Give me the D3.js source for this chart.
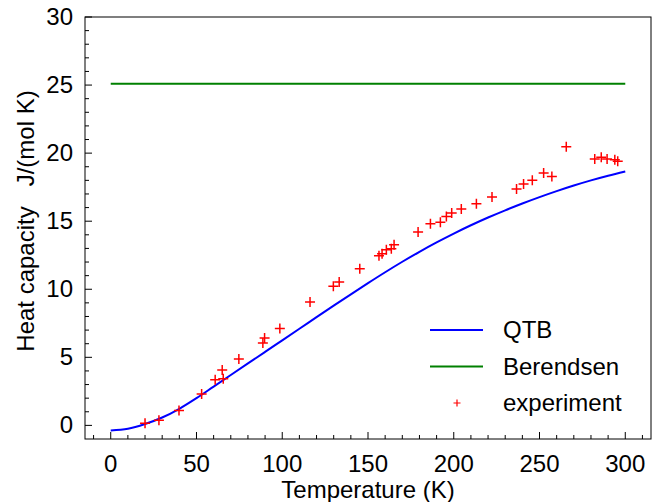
<!DOCTYPE html>
<html>
<head>
<meta charset="utf-8">
<script src="https://cdn.jsdelivr.net/npm/d3@7"></script>
<style>
  body { margin: 0; background: #fff; }
  text { font-family: "Liberation Sans", Arial, sans-serif; fill: #000; }
</style>
</head>
<body>
<svg id="chart"></svg>
<script>
// QTB simulation curve
const qtbT = [0, 10, 20, 30, 40, 50, 60, 70, 80, 90, 100, 110, 120, 130, 140, 150,
  160, 170, 180, 190, 200, 210, 220, 230, 240, 250, 260, 270, 280, 290, 300];
const qtbC = [-0.37, -0.25, 0.1, 0.58, 1.22, 2.0, 2.85, 3.7, 4.55, 5.4, 6.25, 7.1, 7.95, 8.8, 9.63, 10.45,
  11.25, 12.02, 12.75, 13.44, 14.09, 14.7, 15.27, 15.8, 16.3, 16.77, 17.21, 17.62, 18.0, 18.34, 18.65];

// Berendsen (classical limit)
const berT = [0, 300];
const berC = [25.1, 25.1];

// experiment
const expT = [20, 28.1, 39.8, 53, 60.9, 65, 65.6, 74.7, 88.7, 89.7, 98.6, 116.2, 129.8, 133.2, 145.2,
  156.4, 158.2, 160.7, 163.6, 165.2, 179.2, 186.4, 192.2, 195.7, 198.8, 204.4, 213.2, 222.3,
  236.6, 240.7, 245.8, 252.4, 257.2, 265.6, 282.2, 286, 289.4, 293.9, 295.6];
const expC = [0.15, 0.37, 1.1, 2.3, 3.35, 4.07, 3.43, 4.88, 6.05, 6.42, 7.11, 9.07, 10.22, 10.54, 11.5,
  12.46, 12.61, 12.9, 12.97, 13.27, 14.2, 14.81, 14.93, 15.35, 15.6, 15.9, 16.29, 16.78,
  17.37, 17.74, 18.0, 18.54, 18.29, 20.47, 19.57, 19.69, 19.57, 19.52, 19.4];

const xTicks = [0, 50, 100, 150, 200, 250, 300];
const yTicks = [0, 5, 10, 15, 20, 25, 30];

const width = 656, height = 502;
const margin = { top: 17, right: 5, bottom: 63, left: 85 };
const fs = 24;

const svg = d3.select("#chart").attr("width", width).attr("height", height);

const x = d3.scaleLinear().domain([-15, 315]).range([margin.left, width - margin.right]);
const y = d3.scaleLinear().domain([-1, 30]).range([height - margin.bottom, margin.top]);

// frame
svg.append("rect")
  .attr("x", x.range()[0]).attr("y", y.range()[1])
  .attr("width", x.range()[1] - x.range()[0])
  .attr("height", y.range()[0] - y.range()[1])
  .attr("fill", "none").attr("stroke", "#000").attr("stroke-width", 1);

// inward ticks, minor + major
const xMinor = d3.range(-10, 315, 10);
const yMinor = d3.range(0, 31, 1);

const bottom = svg.append("g").attr("transform", `translate(0,${y.range()[0]})`);
bottom.selectAll("line")
  .data(xMinor)
  .join("line")
  .attr("x1", (d) => x(d)).attr("x2", (d) => x(d))
  .attr("y1", 0).attr("y2", (d) => (d % 50 === 0 ? -7 : -4))
  .attr("stroke", "#000");
bottom.selectAll("text")
  .data(xTicks)
  .join("text")
  .attr("x", (d) => x(d)).attr("y", 33)
  .attr("text-anchor", "middle")
  .attr("font-size", fs)
  .text((d) => d);

const left = svg.append("g").attr("transform", `translate(${x.range()[0]},0)`);
left.selectAll("line")
  .data(yMinor)
  .join("line")
  .attr("y1", (d) => y(d)).attr("y2", (d) => y(d))
  .attr("x1", 0).attr("x2", (d) => (d % 5 === 0 ? 7 : 4))
  .attr("stroke", "#000");
left.selectAll("text")
  .data(yTicks)
  .join("text")
  .attr("x", -12).attr("y", (d) => y(d) + 8)
  .attr("text-anchor", "end")
  .attr("font-size", fs)
  .text((d) => d);

// axis titles
svg.append("text")
  .attr("x", (x.range()[0] + x.range()[1]) / 2).attr("y", 498)
  .attr("text-anchor", "middle").attr("font-size", fs)
  .text("Temperature (K)");
svg.append("text")
  .attr("transform", `translate(34,221) rotate(-90)`)
  .attr("text-anchor", "middle").attr("font-size", fs)
  .attr("xml:space", "preserve")
  .text("Heat capacity   J/(mol K)");

// lines
const line = d3.line().x((d) => x(d[0])).y((d) => y(d[1])).curve(d3.curveMonotoneX);

svg.append("path")
  .datum(berT.map((t, i) => [t, berC[i]]))
  .attr("d", line)
  .attr("fill", "none").attr("stroke", "#008000").attr("stroke-width", 2);

svg.append("path")
  .datum(qtbT.map((t, i) => [t, qtbC[i]]))
  .attr("d", line)
  .attr("fill", "none").attr("stroke", "#0000ff").attr("stroke-width", 2);

// experiment markers
const plus = (s) => `M${-s},0H${s}M0,${-s}V${s}`;
svg.append("g")
  .selectAll("path")
  .data(expT.map((t, i) => [t, expC[i]]))
  .join("path")
  .attr("transform", (d) => `translate(${x(d[0])},${y(d[1])})`)
  .attr("d", plus(5))
  .attr("stroke", "#ff0000").attr("stroke-width", 1.5).attr("fill", "none");

// legend
const legend = svg.append("g").attr("transform", "translate(430,330)");
const items = [
  { label: "QTB", type: "line", color: "#0000ff" },
  { label: "Berendsen", type: "line", color: "#008000" },
  { label: "experiment", type: "plus", color: "#ff0000" }
];
items.forEach((it, i) => {
  const g = legend.append("g").attr("transform", `translate(0,${i * 36.5})`);
  if (it.type === "line") {
    g.append("line").attr("x1", 0).attr("x2", 53).attr("y1", 0).attr("y2", 0)
      .attr("stroke", it.color).attr("stroke-width", 2);
  } else {
    g.append("path").attr("transform", "translate(27,0)").attr("d", plus(3.5))
      .attr("stroke", it.color).attr("stroke-width", 1.2);
  }
  g.append("text").attr("x", 73).attr("y", 8).attr("font-size", fs).text(it.label);
});
</script>
</body>
</html>
